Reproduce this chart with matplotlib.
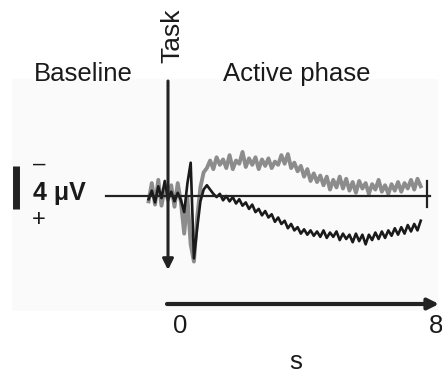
import matplotlib
matplotlib.use("Agg")
import matplotlib.pyplot as plt
from matplotlib.patches import Rectangle

plt.rcParams['font.family'] = ['Liberation Sans', 'DejaVu Sans']

# time in seconds (task onset at 0)
t = [-0.6, -0.5, -0.4, -0.3, -0.2, -0.1, 0.0, 0.1, 0.2, 0.3,
     0.4, 0.5, 0.6, 0.7, 0.8, 0.9, 1.0, 1.1, 1.2, 1.3,
     1.4, 1.5, 1.6, 1.7, 1.8, 1.9, 2.0, 2.1, 2.2, 2.3,
     2.4, 2.5, 2.6, 2.7, 2.8, 2.9, 3.0, 3.1, 3.2, 3.3,
     3.4, 3.5, 3.6, 3.7, 3.8, 3.9, 4.0, 4.1, 4.2, 4.3,
     4.4, 4.5, 4.6, 4.7, 4.8, 4.9, 5.0, 5.1, 5.2, 5.3,
     5.4, 5.5, 5.6, 5.7, 5.8, 5.9, 6.0, 6.1, 6.2, 6.3,
     6.4, 6.5, 6.6, 6.7, 6.8, 6.9, 7.0, 7.1, 7.2, 7.3,
     7.4, 7.5, 7.6, 7.7, 7.8]

# gray trace, microvolts (negative up)
gray_uv = [0.5, -1.2, 0.8, -1.5, 0.9, -0.8, 0.4, -1.0, 1.0, -1.2,
           0.6, 3.5, 0.2, 4.5, 6.1, 2.0, -0.8, -2.2, -2.6, -3.3,
           -2.5, -3.6, -2.9, -3.4, -2.6, -3.8, -2.5, -3.3, -3.0, -4.1,
           -2.7, -3.5, -2.9, -3.6, -2.5, -3.4, -2.8, -3.5, -2.6, -3.2,
           -2.9, -3.8, -3.0, -3.9, -2.6, -3.1, -2.3, -2.8, -1.8, -2.5,
           -1.4, -2.1, -1.3, -1.9, -1.0, -1.8, -0.6, -1.5, -0.8, -1.8,
           -0.7, -1.6, -0.5, -1.3, -0.3, -1.4, -0.7, -1.2, -0.2, -1.1,
           -0.6, -1.5, -0.4, -1.0, -0.2, -1.1, -0.5, -1.3, -0.4, -1.2,
           -0.7, -1.5, -0.6, -1.6, -0.9]

# black trace, microvolts
black_uv = [0.3, -0.5, 0.6, -0.9, 0.2, -1.4, 0.3, -0.4, 0.5, -0.3,
            0.4, 1.5, -1.2, -3.1, 5.8, 3.0, 0.5, -0.6, -1.0, -0.6,
            -0.2, 0.1, -0.2, 0.4, 0.0, 0.5, 0.1, 0.7, 0.3, 0.9,
            0.6, 1.2, 0.8, 1.5, 1.2, 1.8, 1.4, 2.0, 1.7, 2.4,
            2.0, 2.6, 2.3, 3.0, 2.6, 3.2, 2.9, 3.5, 3.1, 3.6,
            3.2, 3.7, 3.3, 3.8, 3.2, 3.9, 3.4, 3.8, 3.3, 4.1,
            3.5, 4.0, 3.6, 4.3, 3.5, 4.2, 3.6, 4.5, 3.6, 4.1,
            3.4, 4.0, 3.3, 3.9, 3.2, 3.7, 3.0, 3.6, 2.9, 3.5,
            2.7, 3.3, 2.6, 3.2, 2.3]

fig = plt.figure(figsize=(4.42, 3.74), dpi=100)
ax = fig.add_axes([0, 0, 1, 1])
# 1 s = 32.4 px, 1 uV = 10.75 px; onset at x=168 px, baseline at y=196 px
ax.set_xlim(-168 / 32.4, (442 - 168) / 32.4)
ax.set_ylim((374 - 196) / 10.75, -196 / 10.75)
ax.axis('off')

def px(x, y):
    return (x - 168) / 32.4, (y - 196) / 10.75

# faint panel
x0, y0 = px(12, 311)
x1, y1 = px(438, 79)
ax.add_patch(Rectangle((x0, y1), x1 - x0, y0 - y1, color='#fafafa', zorder=0, lw=0))

# baseline with end tick
ax.plot([px(106, 0)[0], px(430, 0)[0]], [0, 0], color='#222222', lw=1.6, zorder=3)
ax.plot([px(427, 0)[0]] * 2, [px(0, 181)[1], px(0, 207)[1]], color='#222222', lw=1.6, zorder=3)

ax.plot(t, gray_uv, color='#8c8c8c', lw=2.8, zorder=2)
ax.plot(t, black_uv, color='#1a1a1a', lw=1.9, zorder=2)

# task arrow
ax.annotate('', xy=px(168, 270), xytext=px(168, 81),
            arrowprops=dict(arrowstyle='-|>', color='#222222', lw=2.2,
                            mutation_scale=16, shrinkA=0, shrinkB=0), zorder=4)
# time arrow
ax.annotate('', xy=px(439, 304), xytext=px(167, 304),
            arrowprops=dict(arrowstyle='-|>', color='#222222', lw=3,
                            mutation_scale=16, shrinkA=0, shrinkB=0), zorder=4)

# scale bar
ax.plot([px(16.5, 0)[0]] * 2, [px(0, 166)[1], px(0, 209)[1]], color='#222222', lw=5, solid_capstyle='butt')

txt = dict(color='#1a1a1a', ha='center', va='center')
ax.text(*px(83, 74), 'Baseline', fontsize=18.5, **txt)
ax.text(*px(297, 74), 'Active phase', fontsize=18.5, **txt)
ax.text(*px(172, 36), 'Task', fontsize=19, rotation=90, **txt)
ax.text(*px(39, 164), '\u2013', fontsize=16, **txt)
ax.text(*px(59, 193), '4 \u03bcV', fontsize=18, fontweight='bold', **txt)
ax.text(*px(39, 220), '+', fontsize=17, **txt)
ax.text(*px(180, 326), '0', fontsize=18.5, **txt)
ax.text(*px(436, 326), '8', fontsize=18.5, **txt)
ax.text(*px(296, 362), 's', fontsize=18.5, **txt)

fig.savefig('out.png', dpi=100)
